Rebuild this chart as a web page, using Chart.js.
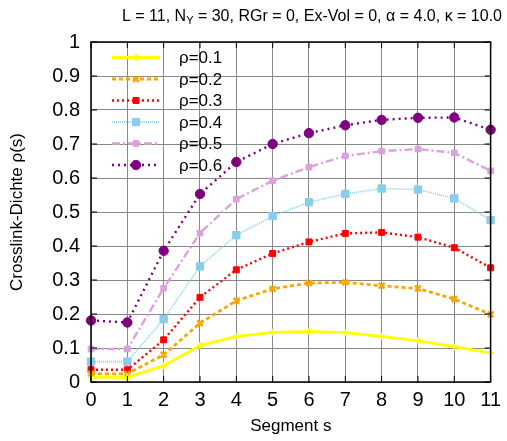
<!DOCTYPE html>
<html>
<head>
<meta charset="utf-8">
<script src="https://cdn.jsdelivr.net/npm/chart.js@4"></script>
<style>
  html, body { margin: 0; padding: 0; background: #fff; }
  #wrap { width: 507px; height: 441px; }
</style>
</head>
<body>
<div id="wrap"><canvas id="c" width="507" height="441"></canvas></div>
<script>
// Segment index along the chain
const segments = [0, 1, 2, 3, 4, 5, 6, 7, 8, 9, 10, 11];
// Crosslink density per segment for each overall density rho
const rho01 = [0.014, 0.014, 0.048, 0.107, 0.134, 0.146, 0.149, 0.145, 0.134, 0.121, 0.104, 0.085];
const rho02 = [0.024, 0.024, 0.080, 0.173, 0.239, 0.274, 0.291, 0.293, 0.283, 0.275, 0.244, 0.199];
const rho03 = [0.036, 0.036, 0.124, 0.249, 0.330, 0.378, 0.412, 0.437, 0.440, 0.426, 0.395, 0.336];
const rho04 = [0.060, 0.060, 0.185, 0.340, 0.432, 0.488, 0.529, 0.553, 0.569, 0.566, 0.540, 0.476];
const rho05 = [0.097, 0.097, 0.276, 0.438, 0.538, 0.592, 0.632, 0.665, 0.679, 0.685, 0.674, 0.621];
const rho06 = [0.181, 0.175, 0.386, 0.553, 0.647, 0.700, 0.732, 0.755, 0.771, 0.777, 0.778, 0.742];
const seriesLabels = ['ρ=0.1', 'ρ=0.2', 'ρ=0.3', 'ρ=0.4', 'ρ=0.5', 'ρ=0.6'];
const yTicks = [0, 0.1, 0.2, 0.3, 0.4, 0.5, 0.6, 0.7, 0.8, 0.9, 1];

const FONT = '"Liberation Sans", Arial, Helvetica, sans-serif';

const styles = [
  { color: '#ffff00', width: 2.8, dash: [],           point: 'cross',    radius: 3.5, pw: 2 },
  { color: '#ffa500', width: 2.8, dash: [4, 3],       point: 'crossRot', radius: 4,   pw: 2.5 },
  { color: '#ff0000', width: 2.4, dash: [2, 3],       point: 'rect',     radius: 4.2, pw: 1 },
  { color: '#87ceeb', width: 1.6, dash: [1, 1],       point: 'rect',     radius: 5.2, pw: 1 },
  { color: '#dda0dd', width: 2.4, dash: [8, 3, 2, 3], point: 'rect',     radius: 4,   pw: 1 },
  { color: '#800080', width: 2.4, dash: [2, 4],       point: 'circle',   radius: 4.7, pw: 1 }
];
const seriesValues = [rho01, rho02, rho03, rho04, rho05, rho06];

const datasets = seriesValues.map((vals, i) => ({
  label: seriesLabels[i],
  data: segments.map((s, k) => ({ x: s, y: vals[k] })),
  borderColor: styles[i].color,
  backgroundColor: styles[i].color,
  borderWidth: styles[i].width,
  borderDash: styles[i].dash,
  pointStyle: styles[i].point,
  pointRadius: styles[i].radius,
  pointBorderWidth: styles[i].pw,
  pointBorderColor: styles[i].color,
  pointBackgroundColor: styles[i].color,
  tension: 0,
  fill: false,
  clip: false
}));

// Title with subscript, frame with inward ticks on all sides, and the key
const decor = {
  id: 'decor',
  afterDraw(chart) {
    const ctx = chart.ctx;
    const a = chart.chartArea;
    const xs = chart.scales.x, ys = chart.scales.y;
    ctx.save();
    // frame
    ctx.strokeStyle = '#000';
    ctx.lineWidth = 1.5;
    ctx.setLineDash([]);
    ctx.strokeRect(a.left, a.top, a.right - a.left, a.bottom - a.top);
    // inward tick marks
    ctx.lineWidth = 1;
    const tl = 6;
    segments.forEach(v => {
      const px = xs.getPixelForValue(v);
      ctx.beginPath();
      ctx.moveTo(px, a.bottom); ctx.lineTo(px, a.bottom - tl);
      ctx.moveTo(px, a.top); ctx.lineTo(px, a.top + tl);
      ctx.stroke();
    });
    yTicks.forEach(v => {
      const py = ys.getPixelForValue(v);
      ctx.beginPath();
      ctx.moveTo(a.left, py); ctx.lineTo(a.left + tl, py);
      ctx.moveTo(a.right, py); ctx.lineTo(a.right - tl, py);
      ctx.stroke();
    });

    // title with subscript Y, ending near the right edge
    const parts = [
      { t: 'L = 11, N', sub: false },
      { t: 'Y', sub: true },
      { t: ' = 30, RGr = 0, Ex-Vol = 0, α = 4.0, κ = 10.0', sub: false }
    ];
    const big = '16px ' + FONT, small = '11px ' + FONT;
    let total = 0;
    parts.forEach(p => { ctx.font = p.sub ? small : big; p.w = ctx.measureText(p.t).width; total += p.w; });
    let x = 502 - total;
    ctx.fillStyle = '#000';
    ctx.textBaseline = 'alphabetic';
    ctx.textAlign = 'left';
    parts.forEach(p => {
      ctx.font = p.sub ? small : big;
      ctx.fillText(p.t, x, p.sub ? 24 : 21);
      x += p.w;
    });

    // key
    chart.data.datasets.forEach((ds, i) => {
      const y = 57.5 + i * 21.5;
      ctx.strokeStyle = ds.borderColor;
      ctx.lineWidth = ds.borderWidth;
      ctx.setLineDash(ds.borderDash);
      ctx.beginPath();
      ctx.moveTo(112, y); ctx.lineTo(160, y);
      ctx.stroke();
      ctx.setLineDash([]);
      ctx.fillStyle = ds.pointBackgroundColor;
      ctx.strokeStyle = ds.pointBorderColor;
      ctx.lineWidth = ds.pointBorderWidth;
      Chart.helpers.drawPoint(ctx, { pointStyle: ds.pointStyle, radius: ds.pointRadius, rotation: 0, borderWidth: ds.pointBorderWidth }, 136, y);
      ctx.fillStyle = '#000';
      ctx.font = '17px ' + FONT;
      ctx.textBaseline = 'middle';
      ctx.fillText(ds.label, 179, y + 1);
    });
    ctx.restore();
  }
};

new Chart(document.getElementById('c'), {
  type: 'line',
  data: { datasets },
  plugins: [decor],
  options: {
    responsive: false,
    animation: false,
    devicePixelRatio: 1,
    layout: { padding: { top: 42, right: 16, left: 0, bottom: 0 } },
    plugins: { legend: { display: false }, tooltip: { enabled: false }, title: { display: false } },
    scales: {
      x: {
        type: 'linear',
        min: 0, max: 11,
        afterFit(s) { s.height = 59; },
        afterBuildTicks(s) { s.ticks = segments.map(v => ({ value: v })); },
        grid: { color: '#888', lineWidth: 1, borderDash: [1, 2], drawTicks: false },
        border: { display: false },
        ticks: { color: '#000', font: { family: FONT, size: 20 }, padding: 6, maxRotation: 0, callback: v => String(v) },
        title: { display: true, text: 'Segment s', color: '#000', font: { family: FONT, size: 17 }, padding: { top: 0, bottom: 4 } }
      },
      y: {
        min: 0, max: 1,
        afterFit(s) { s.width = 91; },
        afterBuildTicks(s) { s.ticks = yTicks.map(v => ({ value: v })); },
        grid: { color: '#888', lineWidth: 1, borderDash: [1, 2], drawTicks: false },
        border: { display: false },
        ticks: { color: '#000', font: { family: FONT, size: 20 }, padding: 11, callback: v => String(v) },
        title: { display: true, text: 'Crosslink-Dichte ρ(s)', color: '#000', font: { family: FONT, size: 17 }, padding: { top: 7, bottom: 0 } }
      }
    }
  }
});
</script>
</body>
</html>
